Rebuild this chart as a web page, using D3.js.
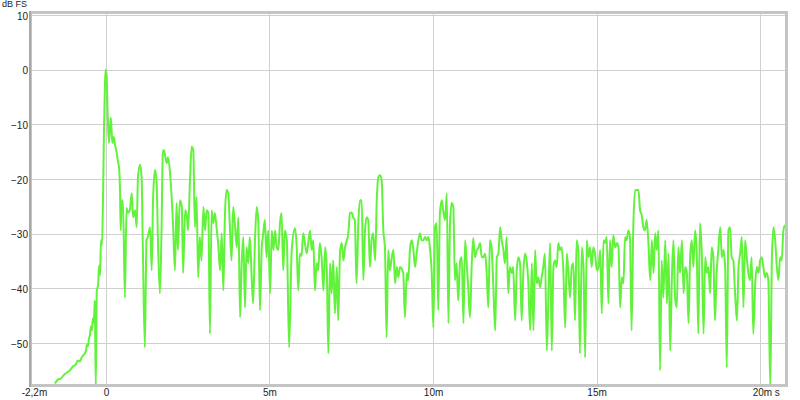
<!DOCTYPE html>
<html>
<head>
<meta charset="utf-8">
<script src="https://cdn.jsdelivr.net/npm/d3@7"></script>
<style>
  body { margin: 0; background: #fff; }
  svg text { font-family: "Liberation Sans", Arial, sans-serif; fill: #222; }
</style>
</head>
<body>
<div class="chart"></div>
<script>
// impulse response, time in ms and level in dB FS
var timeMs = [
  -1.56,-1.47,-1.38,-1.28,-1.19,-1.10,-1.01,-0.92,-0.86,-0.80,-0.73,-0.67,-0.61,-0.58,-0.55,-0.52,-0.49,-0.46,-0.43,-0.40,
  -0.37,-0.34,-0.31,-0.28,-0.24,-0.21,-0.18,-0.15,-0.12,-0.09,-0.08,-0.06,-0.03,-0.01,0.02,0.05,0.09,0.12,0.15,0.18,
  0.20,0.24,0.28,0.33,0.37,0.40,0.43,0.45,0.48,0.52,0.58,0.63,0.67,0.73,0.79,0.83,0.89,0.94,0.98,1.04,
  1.09,1.13,1.19,1.24,1.28,1.35,1.40,1.44,1.50,1.55,1.59,1.65,1.70,1.74,1.77,1.86,1.90,1.96,2.05,2.11,
  2.16,2.20,2.26,2.32,2.36,2.42,2.47,2.51,2.57,2.62,2.67,2.72,2.77,2.82,2.87,2.92,2.98,3.03,3.08,3.13,
  3.18,3.23,3.28,3.33,3.39,3.43,3.49,3.54,3.59,3.64,3.69,3.74,3.79,3.84,3.89,3.94,4.00,4.05,4.10,4.15,
  4.20,4.25,4.30,4.35,4.40,4.46,4.50,4.56,4.61,4.66,4.71,4.76,4.81,4.86,4.91,4.96,5.02,5.07,5.12,5.17,
  5.22,5.27,5.32,5.37,5.42,5.47,5.53,5.60,5.68,5.78,5.83,5.88,5.93,5.98,6.03,6.14,6.24,6.29,6.34,6.39,
  6.44,6.49,6.54,6.60,6.65,6.70,6.75,6.80,6.85,6.90,6.95,7.00,7.06,7.10,7.16,7.21,7.26,7.31,7.41,7.46,
  7.51,7.56,7.61,7.66,7.72,7.77,7.82,7.87,7.92,7.97,8.02,8.07,8.12,8.17,8.23,8.28,8.33,8.38,8.43,8.48,
  8.53,8.58,8.63,8.68,8.74,8.79,8.84,8.89,8.94,8.99,9.09,9.14,9.20,9.24,9.30,9.35,9.40,9.45,9.50,9.60,
  9.65,9.70,9.76,9.81,9.86,9.91,9.96,10.01,10.06,10.11,10.16,10.21,10.27,10.31,10.37,10.42,10.47,10.52,10.57,10.62,
  10.67,10.72,10.77,10.83,10.88,10.93,10.98,11.03,11.08,11.13,11.18,11.23,11.28,11.34,11.39,11.44,11.49,11.54,11.59,11.64,
  11.69,11.74,11.79,11.84,11.90,11.95,12.00,12.05,12.10,12.15,12.20,12.25,12.30,12.35,12.41,12.45,12.51,12.56,12.61,12.66,
  12.71,12.76,12.81,12.86,12.91,12.97,13.02,13.07,13.12,13.17,13.22,13.27,13.32,13.37,13.42,13.48,13.53,13.58,13.63,13.68,
  13.73,13.78,13.83,13.88,13.93,13.98,14.04,14.09,14.14,14.19,14.24,14.29,14.34,14.39,14.44,14.49,14.55,14.60,14.65,14.70,
  14.75,14.80,14.85,14.90,14.95,15.01,15.06,15.11,15.16,15.21,15.26,15.31,15.36,15.41,15.46,15.51,15.57,15.62,15.67,15.72,
  15.77,15.82,15.87,15.92,15.97,16.02,16.07,16.12,16.18,16.23,16.28,16.33,16.38,16.43,16.48,16.53,16.58,16.64,16.69,16.74,
  16.79,16.84,16.89,16.94,16.99,17.04,17.10,17.15,17.20,17.25,17.30,17.35,17.40,17.45,17.50,17.55,17.61,17.66,17.71,17.76,
  17.81,17.86,17.91,17.96,18.01,18.06,18.11,18.16,18.22,18.27,18.32,18.37,18.42,18.47,18.52,18.57,18.62,18.67,18.72,18.78,
  18.83,18.88,18.93,18.98,19.03,19.08,19.13,19.18,19.23,19.29,19.34,19.39,19.44,19.49,19.54,19.59,19.64,19.69,19.74,19.79,
  19.85,19.90,19.95,20.00,20.05,20.10,20.15,20.20,20.25,20.31,20.36,20.41,20.46,20.51,20.56,20.61,20.66,20.71,20.76
];
var levelDb = [
  -57.4,-56.7,-56.5,-55.8,-55.4,-55.0,-54.3,-53.9,-53.2,-53.4,-52.5,-52.1,-51.4,-50.3,-50.6,-49.2,-48.6,-47.0,-47.7,-45.5,
  -46.2,-42.2,-58.0,-40.4,-39.4,-35.8,-37.6,-31.2,-32.1,-23.9,-20.2,-11.0,-2.8,0.0,-0.9,-7.3,-13.4,-11.0,-8.8,-11.9,
  -13.4,-12.3,-13.8,-15.2,-16.9,-17.8,-22.0,-29.4,-24.2,-23.9,-41.7,-25.3,-26.2,-25.7,-22.6,-27.0,-25.7,-28.8,-19.6,-17.4,
  -19.6,-33.0,-50.8,-31.2,-30.6,-28.8,-36.7,-23.9,-18.3,-20.7,-31.2,-40.9,-29.4,-15.2,-14.7,-17.1,-16.0,-18.9,-28.1,-36.7,
  -24.4,-33.0,-23.9,-25.1,-37.2,-25.7,-26.6,-29.4,-20.2,-14.1,-14.7,-28.8,-23.3,-38.0,-30.6,-34.9,-25.1,-29.4,-25.7,-26.1,
  -48.3,-25.7,-28.1,-26.2,-29.4,-31.7,-36.7,-29.9,-40.4,-26.2,-22.0,-22.6,-28.8,-34.9,-25.1,-28.1,-32.5,-27.0,-45.3,-35.4,
  -30.6,-43.5,-32.5,-35.4,-30.6,-38.5,-42.8,-30.6,-25.1,-28.1,-44.0,-33.0,-29.9,-27.5,-34.3,-29.4,-40.9,-29.4,-33.0,-29.4,
  -32.5,-33.0,-28.1,-26.2,-36.7,-29.4,-31.2,-50.8,-33.0,-29.0,-32.1,-40.4,-33.6,-34.1,-29.9,-33.6,-29.4,-33.0,-31.2,-40.4,
  -35.4,-36.7,-31.7,-34.9,-40.4,-32.5,-36.1,-51.9,-35.4,-40.9,-34.9,-44.6,-36.1,-45.9,-33.0,-31.7,-34.9,-32.5,-29.9,-26.2,
  -26.1,-27.0,-27.5,-39.1,-27.5,-23.9,-23.9,-38.5,-29.4,-27.0,-27.5,-36.1,-31.2,-29.9,-34.9,-23.9,-19.6,-19.3,-20.2,-29.4,
  -32.5,-49.0,-33.0,-36.7,-34.3,-33.0,-39.1,-36.1,-38.0,-36.1,-37.2,-45.3,-37.2,-38.5,-32.5,-31.2,-33.0,-36.1,-33.6,-29.9,
  -31.2,-31.2,-30.6,-31.2,-30.6,-33.0,-37.2,-47.2,-28.8,-28.1,-44.0,-26.2,-23.9,-25.7,-27.5,-22.6,-46.4,-28.1,-24.4,-25.1,
  -38.5,-35.4,-42.2,-34.9,-34.3,-46.4,-31.2,-35.4,-40.4,-45.3,-36.1,-30.8,-34.3,-33.0,-32.5,-31.7,-34.3,-34.3,-33.6,-37.2,
  -43.5,-31.2,-32.5,-39.1,-47.7,-34.3,-33.6,-28.8,-31.2,-33.0,-35.4,-30.6,-40.9,-36.1,-37.2,-36.1,-45.9,-36.7,-34.3,-35.4,
  -45.9,-37.2,-33.6,-34.9,-38.5,-47.7,-35.4,-47.7,-33.0,-39.1,-38.0,-39.8,-38.0,-36.1,-33.6,-51.4,-40.9,-31.7,-51.4,-36.1,
  -34.9,-36.1,-31.7,-33.0,-32.5,-36.1,-47.2,-33.6,-37.2,-41.7,-36.1,-35.4,-45.9,-31.2,-33.0,-51.9,-32.5,-36.1,-52.7,-31.2,
  -34.3,-32.5,-36.1,-32.5,-33.6,-36.7,-36.1,-33.0,-44.6,-31.2,-31.7,-30.6,-42.8,-31.2,-36.1,-30.3,-32.5,-31.7,-32.5,-43.5,
  -38.0,-39.1,-30.6,-31.2,-29.4,-30.6,-47.7,-29.4,-22.0,-22.0,-22.0,-25.7,-26.6,-28.8,-29.4,-27.5,-31.2,-38.5,-31.2,-37.2,
  -29.9,-33.0,-29.4,-55.0,-34.9,-41.7,-31.2,-42.8,-33.6,-51.4,-38.5,-31.2,-41.7,-43.5,-32.5,-37.2,-31.2,-40.9,-36.1,-37.2,
  -46.4,-34.3,-31.2,-36.1,-29.4,-33.0,-48.3,-28.1,-34.3,-48.3,-34.3,-37.2,-36.1,-40.9,-32.5,-34.3,-45.9,-37.2,-33.0,-28.8,
  -34.3,-33.0,-36.1,-54.5,-29.4,-28.8,-34.3,-34.9,-40.4,-45.9,-36.1,-33.6,-30.6,-43.5,-31.2,-34.3,-37.2,-38.5,-34.3,-48.3,
  -39.1,-36.1,-37.2,-34.9,-34.3,-36.1,-38.0,-37.2,-38.5,-58.0,-34.3,-28.8,-31.2,-36.1,-38.5,-34.3,-34.9,-29.4,-28.4
];
var xTicks = [-2.2, 0, 5, 10, 15, 20];
var xTickLabels = ["-2,2m", "0", "5m", "10m", "15m", "20m s"];
var yTicks = [10, 0, -10, -20, -30, -40, -50];
var yLabel = "dB FS";

var data = timeMs.map(function(t, i) { return { t: t, db: levelDb[i] }; });

var svgWidth = 800, svgHeight = 400;
var margin = { top: 14, right: 15, bottom: 16, left: 32 };
var width = svgWidth - margin.left - margin.right;
var height = svgHeight - margin.top - margin.bottom;

var svg = d3.select(".chart").append("svg")
  .attr("width", svgWidth)
  .attr("height", svgHeight);

var chartGroup = svg.append("g")
  .attr("transform", `translate(${margin.left}, ${margin.top})`);

var xScale = d3.scaleLinear().domain([-2.26, 20.76]).range([0, width]);
var yScale = d3.scaleLinear().domain([-57.5, 10.2]).range([height, 0]);

// grid
var yGrid = d3.axisLeft(yScale).tickValues(yTicks).tickSize(-width).tickFormat("");
chartGroup.append("g").attr("class", "grid").call(yGrid)
  .call(g => g.select(".domain").remove())
  .selectAll("line").attr("stroke", "#cfcfcf").attr("stroke-width", 1)
  .attr("shape-rendering", "crispEdges");

var xGrid = d3.axisBottom(xScale).tickValues(xTicks.filter(d => d >= 0)).tickSize(-height).tickFormat("");
chartGroup.append("g").attr("class", "grid")
  .attr("transform", `translate(0, ${height})`)
  .call(xGrid)
  .call(g => g.select(".domain").remove())
  .selectAll("line").attr("stroke", "#cfcfcf").attr("stroke-width", 1)
  .attr("shape-rendering", "crispEdges");

// data line
chartGroup.append("clipPath").attr("id", "clip")
  .append("rect").attr("width", width).attr("height", height);

var line = d3.line()
  .x(d => xScale(d.t))
  .y(d => yScale(d.db))
  .curve(d3.curveMonotoneX);

chartGroup.append("path")
  .attr("d", line(data))
  .attr("clip-path", "url(#clip)")
  .attr("fill", "none")
  .attr("stroke", "#62f23c")
  .attr("stroke-width", 2)
  .attr("stroke-linejoin", "round");

// frame
chartGroup.append("rect")
  .attr("x", -1.5).attr("y", -1.5)
  .attr("width", width + 3).attr("height", height + 3)
  .attr("fill", "none")
  .attr("stroke", "#c4c4c4")
  .attr("stroke-width", 3);
chartGroup.append("line")
  .attr("x1", -2).attr("x2", -2).attr("y1", -3).attr("y2", height + 3)
  .attr("stroke", "#a8a8a8").attr("stroke-width", 2);

// axes labels
var yAxis = d3.axisLeft(yScale).tickValues(yTicks).tickSize(0).tickPadding(4);
chartGroup.append("g").call(yAxis)
  .call(g => g.select(".domain").remove())
  .selectAll("text").attr("font-size", 10).attr("dy", "0.4em");

var xAxis = d3.axisBottom(xScale).tickValues(xTicks).tickSize(0).tickPadding(5)
  .tickFormat((d, i) => xTickLabels[i]);
chartGroup.append("g").attr("transform", `translate(0, ${height})`).call(xAxis)
  .call(g => g.select(".domain").remove())
  .selectAll("text").attr("font-size", 10)
  .attr("text-anchor", (d, i) => i === xTicks.length - 1 ? "start" : "middle")
  .attr("dx", (d, i) => i === xTicks.length - 1 ? -8 : 0);

svg.append("text")
  .attr("x", 2).attr("y", 7)
  .attr("font-size", 9)
  .text(yLabel);
</script>
</body>
</html>
